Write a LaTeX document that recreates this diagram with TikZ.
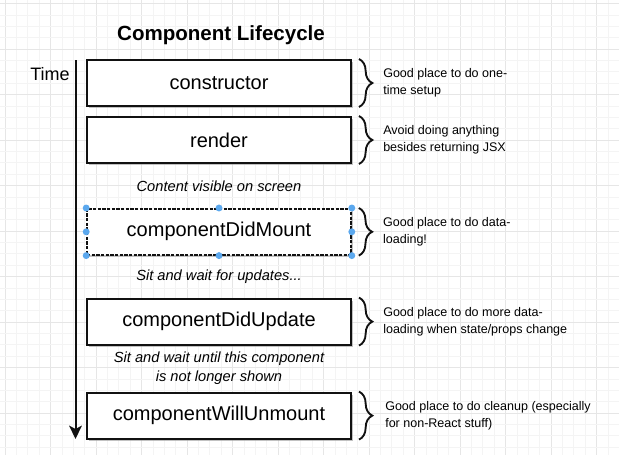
\documentclass[tikz,border=0pt]{standalone}
\usepackage{fontspec}
\setmainfont{Liberation Sans}
\usetikzlibrary{arrows.meta,positioning,calc,shadows,decorations.pathreplacing}
\definecolor{lcInk}{HTML}{111111}
\definecolor{lcGridMinor}{HTML}{F4F4F4}
\definecolor{lcGridMajor}{HTML}{E6E6E6}
\definecolor{lcHandle}{HTML}{5BA8EE}
\definecolor{lcShade}{HTML}{9A9A9A}
\tikzset{
  stage/.style={draw=lcInk, line width=1.5pt, fill=white, minimum width=198pt, minimum height=34.5pt, inner sep=0pt, font=\fontsize{15}{18}\selectfont, drop shadow={shadow xshift=1.5pt, shadow yshift=-1.5pt, fill=lcShade, opacity=0.6}},
  stageSel/.style={stage, dash pattern=on 2.5pt off 1pt, line width=1.2pt},
  note/.style={anchor=west, inner sep=0pt, align=left, font=\fontsize{9.4}{12.75}\selectfont},
  wait/.style={inner sep=0pt, align=center, font=\itshape\fontsize{11}{14.25}\selectfont},
  brc/.style={decorate, decoration={brace, amplitude=10pt}, line width=1.4pt, draw=lcInk},
  timearr/.style={-{Stealth[length=10pt, width=9.5pt, inset=2.5pt]}, line width=1.5pt, draw=lcInk},
  handle/.style={fill=lcHandle},
}

\begin{document}
\begin{tikzpicture}[x=0.75pt, y=-0.75pt]
        \useasboundingbox[fill=white] (0,0) rectangle (619,455);
        % grid
        \foreach \k in {0,...,54} {
          \pgfmathtruncatemacro{\maj}{mod(\k,4)==0}
          \ifnum\maj=1 \def\gc{lcGridMajor}\else\def\gc{lcGridMinor}\fi
          \draw[\gc, line width=0.5pt] (5+\k*11.375,0) -- (5+\k*11.375,455);
        }
        \foreach \k in {0,...,39} {
          \pgfmathtruncatemacro{\maj}{mod(\k,4)==0}
          \ifnum\maj=1 \def\gc{lcGridMajor}\else\def\gc{lcGridMinor}\fi
          \draw[\gc, line width=0.5pt] (0,3.5+\k*11.375) -- (619,3.5+\k*11.375);
        }

        \node[font=\bfseries\fontsize{15.4}{18}\selectfont] (title) at (221,35) {Component Lifecycle};
        \node[font=\fontsize{13.5}{16}\selectfont, anchor=east, inner sep=0pt] (time) at (70,74) {Time};
        \coordinate (tStart) at (75.5,60);
        \coordinate (tEnd) at (75.5,439);
        \draw[timearr] (tStart) -- (tEnd);

        \node[stage] (ctor) at (219,83) {constructor};
        \node[stage, below=6.75pt of ctor] (rend) {render};
        \node[stageSel, below=33pt of rend] (cdm) {componentDidMount};
        \node[stage, below=31.5pt of cdm] (cdu) {componentDidUpdate};
        \node[stage, below=34.5pt of cdu] (cwu) {componentWillUnmount};
        \foreach \a in {north west,north,north east,east,south east,south,south west,west}
          \fill[handle] (cdm.\a) circle (2.6pt);

        \node[wait] (vis) at ($(rend.south)!0.5!(cdm.north)$) {Content visible on screen};
        \node[wait] (upd) at ($(cdm.south)!0.5!(cdu.north)$) {Sit and wait for updates...};
        \node[wait] (gone) at ($(cdu.south)!0.5!(cwu.north)$) {Sit and wait until this component\\is not longer shown};

        \foreach \b in {ctor,rend,cdm,cdu,cwu}
          \draw[brc] ([xshift=5.25pt]\b.north east) -- ([xshift=5.25pt]\b.south east);
        \node[note, right=23.25pt of ctor.east] (ctorNote) {Good place to do one-\\time setup};
        \node[note, right=23.25pt of rend.east] (rendNote) {Avoid doing anything\\besides returning JSX};
        \node[note, right=23.25pt of cdm.east] (cdmNote) {Good place to do data-\\loading!};
        \node[note, right=23.25pt of cdu.east] (cduNote) {Good place to do more data-\\loading when state/props change};
        \node[note, right=24.75pt of cwu.east] (cwuNote) {Good place to do cleanup (especially\\for non-React stuff)};
    \end{tikzpicture}
\end{document}
